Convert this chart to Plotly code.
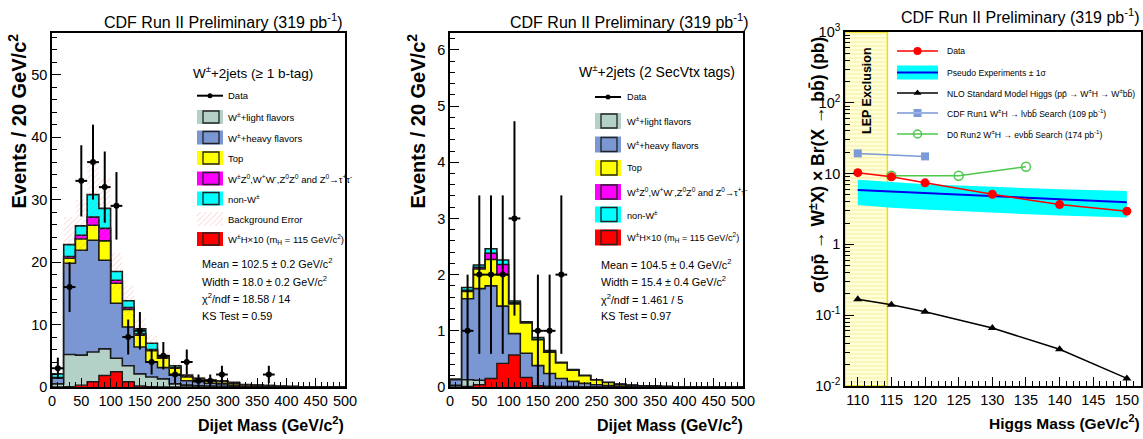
import numpy as np
import plotly.graph_objects as go

W, H = 1143, 439
FN = "Liberation Sans, Arial, sans-serif"
FB = "Liberation Sans, Arial, sans-serif"

# ---------------- data ----------------
edges = list(range(0, 520, 20))  # 25 bins of 20 GeV/c^2

# left panel: W+2jets (>= 1 b-tag), per-component contributions per bin
l_light = [0.5, 5.2, 5.1, 5.6, 6.1, 4.6, 3.4, 2.1, 1.6, 1.3, 0.5, 0.3, 0.2, 0.15, 0.1, 0.05, 0.03, 0.02, 0.02, 0.01, 0.01, 0, 0, 0, 0]
l_heavy = [0.9, 14.6, 16.8, 17.9, 14.2, 8.8, 6.2, 4.3, 2.4, 1.8, 1.4, 0.7, 0.65, 0.45, 0.4, 0.25, 0.12, 0.08, 0.06, 0.04, 0.02, 0.02, 0.01, 0.01, 0]
l_top = [0.05, 0.8, 1.8, 2.4, 3.1, 3.2, 2.8, 1.9, 1.8, 1.5, 1.1, 0.6, 0.45, 0.4, 0.35, 0.3, 0.2, 0.15, 0.12, 0.05, 0.04, 0.03, 0.02, 0.01, 0.01]
l_dib = [0.05, 0.3, 0.6, 1.3, 2.0, 0.5, 0.3, 0.2, 0.2, 0.1, 0.1, 0.05, 0.05, 0.05, 0.05, 0.05, 0.02, 0.02, 0.02, 0.01, 0.01, 0, 0, 0, 0]
l_nonw = [0.6, 1.9, 1.5, 3.6, 3.2, 1.4, 1.1, 0.8, 1.0, 0.3, 0.3, 0.25, 0.05, 0.05, 0.1, 0.1, 0.03, 0.03, 0.03, 0.01, 0, 0, 0, 0, 0]
l_wh10 = [0, 0.05, 0.3, 0.85, 1.85, 2.45, 0.85, 0.15, 0.05, 0.02, 0, 0, 0, 0, 0, 0, 0, 0, 0, 0, 0, 0, 0, 0, 0]
l_bkg_err = [0.5, 4.4, 4.2, 5.4, 4.9, 3.0, 2.4, 1.7, 1.3, 1.0, 0.6, 0.4, 0.3, 0.25, 0.2, 0.15, 0.1, 0.08, 0.06, 0.04, 0.02, 0.02, 0.01, 0.01, 0.01]
l_data_x = [10, 30, 50, 70, 90, 110, 130, 150, 170, 190, 210, 230, 250, 270, 290, 370]
l_data_y = [3, 16, 33, 36, 32, 29, 8, 9, 4, 5, 2, 4, 1, 1, 2, 2]
l_data_err = [1.7, 4.0, 5.7, 6.0, 5.7, 5.4, 2.8, 3.0, 2.0, 2.2, 1.4, 2.0, 1.0, 1.0, 1.4, 1.4]

# middle panel: W+2jets (2 SecVtx tags)
m_light = [0.03, 0.13, 0.12, 0.08, 0.05, 0.03, 0.02, 0.02, 0.01, 0.01, 0.01, 0, 0, 0, 0, 0, 0, 0, 0, 0, 0, 0, 0, 0, 0]
m_heavy = [0.10, 1.44, 1.63, 1.72, 1.39, 0.92, 0.58, 0.36, 0.23, 0.14, 0.09, 0.065, 0.04, 0.025, 0.015, 0.01, 0.005, 0, 0, 0, 0, 0, 0, 0, 0]
m_top = [0, 0.13, 0.35, 0.47, 0.56, 0.53, 0.54, 0.46, 0.38, 0.28, 0.20, 0.135, 0.085, 0.055, 0.035, 0.02, 0.015, 0.015, 0.01, 0.005, 0.005, 0, 0, 0, 0]
m_dib = [0, 0.02, 0.03, 0.11, 0.18, 0.02, 0.01, 0.01, 0.01, 0, 0, 0, 0, 0, 0, 0, 0, 0, 0, 0, 0, 0, 0, 0, 0]
m_nonw = [0.01, 0.05, 0.04, 0.08, 0.08, 0.03, 0.01, 0.03, 0.02, 0.01, 0.01, 0.01, 0.005, 0, 0, 0, 0, 0, 0, 0, 0, 0, 0, 0, 0]
m_wh10 = [0, 0.01, 0.04, 0.15, 0.42, 0.57, 0.17, 0.02, 0.01, 0, 0, 0, 0, 0, 0, 0, 0, 0, 0, 0, 0, 0, 0, 0, 0]
m_data_x = [30, 50, 70, 90, 110, 150, 170, 190]
m_data_y = [1, 2, 2, 2, 3, 1, 1, 2]
m_data_err = [1.0, 1.41, 1.41, 1.41, 1.73, 1.0, 1.0, 1.41]

# right panel: cross-section limits vs Higgs mass
mass = [110, 115, 120, 130, 140, 150]
obs_limit = [10.3, 9.0, 7.4, 5.1, 3.65, 2.95]
pseudo_med = [5.85, 5.55, 5.25, 4.75, 4.35, 3.95]
pseudo_hi = [8.2, 7.6, 7.1, 6.5, 6.0, 5.7]
pseudo_lo = [3.6, 3.3, 3.1, 2.8, 2.55, 2.4]
sm_xsec = [0.168, 0.140, 0.112, 0.066, 0.033, 0.0128]
cdf1_mass = [110, 120]
cdf1_limit = [19.3, 17.5]
d0_mass = [115, 125, 135]
d0_limit = [9.3, 9.3, 12.5]
lep_limit = 114.4

C_LIGHT = "#b3d1c6"
C_HEAVY = "#7b97d3"
C_TOP = "#ffff00"
C_DIB = "#ff00ff"
C_NONW = "#00ffff"
C_WH = "#ff0000"

fig = go.Figure()


def add_stack(comps, colors, xa, ya):
    cum = np.cumsum(np.array(comps, dtype=float), axis=0)
    xs = [edges[0]] + edges
    for level, color in reversed(list(zip(cum, colors))):
        ys = [0] + list(level) + [level[-1]]
        fig.add_trace(go.Scatter(x=xs, y=ys, mode="lines",
                                 line=dict(shape="hv", color="#1a1a1a", width=1.6),
                                 fill="tozeroy", fillcolor=color,
                                 xaxis=xa, yaxis=ya, showlegend=False, hoverinfo="skip"))
    return cum[-1]


def add_hist(vals, color, xa, ya):
    xs = [edges[0]] + edges
    ys = [0] + list(vals) + [vals[-1]]
    fig.add_trace(go.Scatter(x=xs, y=ys, mode="lines",
                             line=dict(shape="hv", color="#1a1a1a", width=1.4),
                             fill="tozeroy", fillcolor=color,
                             xaxis=xa, yaxis=ya, showlegend=False, hoverinfo="skip"))


def add_data(x, y, err, xa, ya):
    fig.add_trace(go.Scatter(x=x, y=y, mode="markers",
                             marker=dict(color="black", size=6),
                             error_y=dict(type="data", array=err, color="black", thickness=2, width=0),
                             error_x=dict(type="constant", value=10, color="black", thickness=2, width=0),
                             xaxis=xa, yaxis=ya, showlegend=False, hoverinfo="skip"))


colors = [C_LIGHT, C_HEAVY, C_TOP, C_DIB, C_NONW]
HATCH = dict(shape="/", fgcolor="rgba(240,120,120,0.6)", bgcolor="rgba(0,0,0,0)", size=4, solidity=0.14)

# left panel
tot_l = add_stack([l_light, l_heavy, l_top, l_dib, l_nonw], colors, "x", "y")
xs_band = [edges[0]] + edges
lo = np.array(tot_l) - np.array(l_bkg_err)
hi = np.array(tot_l) + np.array(l_bkg_err)
fig.add_trace(go.Scatter(x=xs_band, y=[lo[0]] + list(lo) + [lo[-1]], mode="lines",
                         line=dict(shape="hv", width=0, color="rgba(0,0,0,0)"),
                         xaxis="x", yaxis="y", showlegend=False, hoverinfo="skip"))
fig.add_trace(go.Scatter(x=xs_band, y=[hi[0]] + list(hi) + [hi[-1]], mode="lines",
                         line=dict(shape="hv", width=0, color="rgba(0,0,0,0)"),
                         fill="tonexty", fillcolor="rgba(0,0,0,0)", fillpattern=HATCH,
                         xaxis="x", yaxis="y", showlegend=False, hoverinfo="skip"))
add_hist(l_wh10, C_WH, "x", "y")
add_data(l_data_x, l_data_y, l_data_err, "x", "y")

# middle panel
add_stack([m_light, m_heavy, m_top, m_dib, m_nonw], colors, "x2", "y2")
add_hist(m_wh10, C_WH, "x2", "y2")
add_data(m_data_x, m_data_y, m_data_err, "x2", "y2")

# right panel
fig.add_shape(type="rect", xref="x3", yref="y3 domain", x0=108.1, x1=lep_limit, y0=0, y1=1,
              fillcolor="#ffffdc", line=dict(color="#f0e000", width=1.5), layer="below")
fig.add_trace(go.Scatter(x=[108.1, lep_limit, lep_limit, 108.1, 108.1],
                         y=[0.0101, 0.0101, 990, 990, 0.0101], mode="lines", line=dict(width=0),
                         fill="toself", fillcolor="rgba(0,0,0,0)",
                         fillpattern=dict(shape="-", fgcolor="rgba(235,215,60,0.55)",
                                          bgcolor="rgba(0,0,0,0)", size=4, solidity=0.2),
                         xaxis="x3", yaxis="y3", showlegend=False, hoverinfo="skip"))
fig.add_trace(go.Scatter(x=mass, y=pseudo_lo, mode="lines", line=dict(width=0, color="#00ffff"),
                         xaxis="x3", yaxis="y3", showlegend=False, hoverinfo="skip"))
fig.add_trace(go.Scatter(x=mass, y=pseudo_hi, mode="lines", line=dict(width=0, color="#00ffff"),
                         fill="tonexty", fillcolor="#00ffff",
                         xaxis="x3", yaxis="y3", showlegend=False, hoverinfo="skip"))
fig.add_trace(go.Scatter(x=mass, y=pseudo_med, mode="lines", line=dict(width=2, color="#0000ee"),
                         xaxis="x3", yaxis="y3", showlegend=False, hoverinfo="skip"))
fig.add_trace(go.Scatter(x=mass, y=sm_xsec, mode="lines+markers", line=dict(width=1.5, color="black"),
                         marker=dict(symbol="triangle-up", size=8, color="black"),
                         xaxis="x3", yaxis="y3", showlegend=False, hoverinfo="skip"))
fig.add_trace(go.Scatter(x=cdf1_mass, y=cdf1_limit, mode="lines+markers", line=dict(width=1.5, color="#7b9ad8"),
                         marker=dict(symbol="square", size=8, color="#7b9ad8"),
                         xaxis="x3", yaxis="y3", showlegend=False, hoverinfo="skip"))
fig.add_trace(go.Scatter(x=d0_mass, y=d0_limit, mode="lines+markers", line=dict(width=1.5, color="#4cc84c"),
                         marker=dict(symbol="circle-open", size=9, color="#4cc84c", line=dict(width=1.5)),
                         xaxis="x3", yaxis="y3", showlegend=False, hoverinfo="skip"))
fig.add_trace(go.Scatter(x=mass, y=obs_limit, mode="lines+markers", line=dict(width=1.5, color="#ff0000"),
                         marker=dict(symbol="circle", size=9, color="#ff0000"),
                         xaxis="x3", yaxis="y3", showlegend=False, hoverinfo="skip"))


# ---------------- overlay (pixel coordinates) for legends & texts ----------------
def txt(x, y, s, size, xanchor="left", yanchor="middle", family=FN, bold=False, angle=0):
    if bold:
        s = "<b>" + s + "</b>"
    fig.add_annotation(x=x, y=y, xref="x4", yref="y4", text=s, showarrow=False,
                       xanchor=xanchor, yanchor=yanchor, textangle=angle, borderpad=0,
                       font=dict(family=family, size=size, color="black"))


def rect(x0, y0, x1, y1, fill, line_color=None, lw=0):
    fig.add_shape(type="rect", xref="x4", yref="y4", x0=x0, y0=y0, x1=x1, y1=y1,
                  fillcolor=fill, line=dict(color=line_color or fill, width=lw), layer="above")


def line(x0, y0, x1, y1, color, w=1.5):
    fig.add_shape(type="line", xref="x4", yref="y4", x0=x0, y0=y0, x1=x1, y1=y1,
                  line=dict(color=color, width=w), layer="above")


def marker(x, y, sym, color, size, lw=0):
    fig.add_trace(go.Scatter(x=[x], y=[y], mode="markers",
                             marker=dict(symbol=sym, size=size, color=color, line=dict(width=lw, color=color)),
                             xaxis="x4", yaxis="y4", showlegend=False, hoverinfo="skip"))


def hist_legend(x0, w, h, rows, labels, colors_, text_x, fs):
    yd = rows[0]
    line(x0, yd, x0 + w, yd, "black", 2)
    marker(x0 + w / 2, yd, "circle", "black", 5)
    txt(text_x, yd, labels[0], fs)
    for yc, lab, col in zip(rows[1:], labels[1:], colors_):
        if col == "err":
            fig.add_trace(go.Scatter(x=[x0, x0 + w, x0 + w, x0, x0],
                                     y=[yc - h / 2, yc - h / 2, yc + h / 2, yc + h / 2, yc - h / 2],
                                     mode="lines", line=dict(width=0), fill="toself", fillcolor="rgba(0,0,0,0)",
                                     fillpattern=HATCH,
                                     xaxis="x4", yaxis="y4", showlegend=False, hoverinfo="skip"))
        else:
            rect(x0, yc - h / 2, x0 + w, yc + h / 2, col)
            rect(x0 + 6, yc - h / 2 + 1, x0 + w - 4, yc + h / 2 - 1, col, "#222", 1.3)
        txt(text_x, yc, lab, fs)


leg_labels_l = ["Data", "W<sup>±</sup>+light flavors", "W<sup>±</sup>+heavy flavors", "Top",
                "W<sup>±</sup>Z<sup>0</sup>,W<sup>+</sup>W<sup>-</sup>,Z<sup>0</sup>Z<sup>0</sup> and Z<sup>0</sup>→τ<sup>+</sup>τ<sup>-</sup>",
                "non-W<sup>±</sup>", "Background Error", "W<sup>±</sup>H×10 (m<sub>H</sub> = 115 GeV/c<sup>2</sup>)"]
hist_legend(197, 26, 14, [95.7, 117, 137.5, 158, 178.5, 198.5, 219, 239], leg_labels_l,
            [C_LIGHT, C_HEAVY, C_TOP, C_DIB, C_NONW, "err", C_WH], 227, 9.5)

leg_labels_m = [leg_labels_l[i] for i in (0, 1, 2, 3, 4, 5, 7)]
hist_legend(595, 26, 16, [97, 121, 144.5, 168, 192, 214.5, 237.5], leg_labels_m,
            [C_LIGHT, C_HEAVY, C_TOP, C_DIB, C_NONW, C_WH], 626, 9.2)

# stats
for yy, s in zip([263, 280.5, 298, 315.5],
                 ["Mean = 102.5 ± 0.2 GeV/c<sup>2</sup>", "Width = 18.0 ± 0.2 GeV/c<sup>2</sup>",
                  "χ<sup>2</sup>/ndf = 18.58 / 14", "KS Test = 0.59"]):
    txt(201, yy, s, 10.8)
for yy, s in zip([263.5, 281, 298.5, 316],
                 ["Mean = 104.5 ± 0.4 GeV/c<sup>2</sup>", "Width = 15.4 ± 0.4 GeV/c<sup>2</sup>",
                  "χ<sup>2</sup>/ndf = 1.461 / 5", "KS Test = 0.97"]):
    txt(600, yy, s, 10.8)

# titles
title = "CDF Run II Preliminary (319 pb<sup>-1</sup>)"
txt(343, 21, title, 16, xanchor="right")
txt(749, 21, title, 16, xanchor="right")
txt(1140, 16, title, 16, xanchor="right")
txt(253, 72, "W<sup>±</sup>+2jets (≥ 1 b-tag)", 13.5, xanchor="center")
txt(657, 71, "W<sup>±</sup>+2jets (2 SecVtx tags)", 14, xanchor="center")

# axis titles
txt(16.5, 121, "Events / 20 GeV/c<sup>2</sup>", 20, xanchor="center", family=FB, bold=True, angle=-90)
txt(415.5, 121, "Events / 20 GeV/c<sup>2</sup>", 20, xanchor="center", family=FB, bold=True, angle=-90)
txt(345, 424, "Dijet Mass (GeV/c<sup>2</sup>)", 16, xanchor="right", bold=True)
txt(744, 424, "Dijet Mass (GeV/c<sup>2</sup>)", 16, xanchor="right", bold=True)
txt(1141, 422, "Higgs Mass (GeV/c<sup>2</sup>)", 15.5, xanchor="right", bold=True)
txt(817, 165, "σ(pp\u0304 → W<sup>±</sup>X) × Br(X → bb\u0304) (pb)", 17.5, xanchor="center", family=FB, bold=True, angle=-90)
txt(867, 91, "LEP Exclusion", 12.5, xanchor="center", family=FB, bold=True, angle=-90)

# right legend
ry = [51, 72.5, 93, 113, 134]
lx0, lx1 = 897, 938
lm = (lx0 + lx1) / 2
line(lx0, ry[0], lx1, ry[0], "#ff0000", 1.5)
marker(lm, ry[0], "circle", "#ff0000", 8)
rect(lx0, ry[1] - 7, lx1, ry[1] + 7, "#00ffff")
line(lx0, ry[1], lx1, ry[1], "#0000ee", 2)
line(lx0, ry[2], lx1, ry[2], "black", 1.5)
marker(lm, ry[2], "triangle-up", "black", 7)
line(lx0, ry[3], lx1, ry[3], "#9ab0e0", 2)
marker(lm, ry[3], "square", "#7b9ad8", 8)
line(lx0, ry[4], lx1, ry[4], "#4cc84c", 1.5)
marker(lm, ry[4], "circle-open", "#4cc84c", 8, 1.5)
r_labels = ["Data", "Pseudo Experiments ± 1σ",
            "NLO Standard Model Higgs (pp\u0304 → W<sup>±</sup>H → W<sup>±</sup>bb\u0304)",
            "CDF Run1 W<sup>±</sup>H → lνbb\u0304 Search (109 pb<sup>-1</sup>)",
            "D0 Run2 W<sup>±</sup>H → eνbb\u0304 Search (174 pb<sup>-1</sup>)"]
for yy, lab in zip(ry, r_labels):
    txt(946, yy, lab, 8.6)

# ---------------- axes ----------------
tickfont = dict(family=FN, size=14.5, color="black")
common = dict(showline=True, linecolor="black", linewidth=1.5, mirror=True, ticks="inside",
              tickcolor="black", ticklen=9, tickwidth=1.2, showgrid=False, zeroline=False,
              tickfont=tickfont, fixedrange=True, automargin=False)
ydom = [1 - 387 / H, 1 - 33 / H]
ydom3 = [1 - 386 / H, 1 - 32 / H]

minor_log = [k * 10.0 ** d for d in range(-2, 3) for k in range(2, 10)]

fig.update_layout(
    template="none",
    width=W, height=H, margin=dict(l=0, r=0, t=0, b=0, pad=0, autoexpand=False),
    paper_bgcolor="white", plot_bgcolor="rgba(0,0,0,0)", showlegend=False,
    xaxis=dict(domain=[52 / W, 345 / W], range=[0, 500], dtick=50, anchor="y",
               minor=dict(ticks="inside", ticklen=5, dtick=10, tickcolor="black"), **common),
    yaxis=dict(domain=ydom, range=[0, 56.67], dtick=10, anchor="x",
               minor=dict(ticks="inside", ticklen=5, dtick=2, tickcolor="black"), **common),
    xaxis2=dict(domain=[450 / W, 743 / W], range=[0, 500], dtick=50, anchor="y2",
                minor=dict(ticks="inside", ticklen=5, dtick=10, tickcolor="black"), **common),
    yaxis2=dict(domain=ydom, range=[0, 6.3], dtick=1, anchor="x2",
                minor=dict(ticks="inside", ticklen=5, dtick=0.2, tickcolor="black"), **common),
    xaxis3=dict(domain=[845 / W, 1141 / W], range=[108.1, 152.1], dtick=5, tick0=110, anchor="y3",
                minor=dict(ticks="inside", ticklen=5, dtick=1, tickcolor="black"), **common),
    yaxis3=dict(domain=ydom3, type="log", range=[-2, 3], anchor="x3",
                tickvals=[0.01, 0.1, 1, 10, 100, 1000],
                ticktext=["10<sup>-2</sup>", "10<sup>-1</sup>", "1", "10", "10<sup>2</sup>", "10<sup>3</sup>"],
                minor=dict(ticks="inside", ticklen=5, tickvals=minor_log, tickcolor="black"), **common),
    xaxis4=dict(domain=[0, 1], range=[0, W], visible=False, fixedrange=True, anchor="y4", automargin=False),
    yaxis4=dict(domain=[0, 1], range=[H, 0], visible=False, fixedrange=True, anchor="x4", automargin=False),
)

fig.write_html("out.html")
